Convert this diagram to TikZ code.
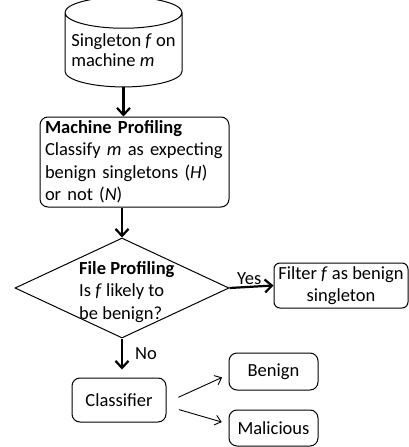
\documentclass[tikz,border=0pt]{standalone}
\usepackage{fontspec}
\setmainfont{Carlito}
\usetikzlibrary{arrows.meta, positioning, shapes.geometric}

\begin{document}
\begin{tikzpicture}[x=1pt, y=-1pt,
      box/.style={draw, line width=1pt, rounded corners=8pt, inner sep=0pt},
      txt/.style={font=\fontsize{18.5}{22.5}\selectfont},
      flow/.style={-{Straight Barb[length=7pt, width=13pt]}, line width=2.2pt},
      fork/.style={-{Straight Barb[length=6pt, width=10pt]}, line width=0.9pt}]

    \useasboundingbox (0,0) rectangle (409,447);

    % === input ===
    \node[draw, line width=1pt, cylinder, shape border rotate=90, aspect=0.3,
          minimum width=117pt, minimum height=90pt, inner sep=0pt,
          font=\fontsize{18.5}{20}\selectfont, align=left] (input) at (123.5,50)
          {Singleton \textit{f} on\\machine \textit{m}};

    % === machine profiling ===
    \node[box, txt, minimum width=189pt, minimum height=90pt, align=left,
          text width=179pt] (machine) at (134.5,162)
          {\textbf{Machine Profiling}\\Classify \textit{m} as expecting\\
           benign singletons (\textit{H})\\or not (\textit{N})};

    % === file profiling ===
    \node[draw, line width=1pt, diamond, minimum width=214pt, minimum height=100pt,
          inner sep=0pt] (fileprof) at (122,288) {};
    \node[txt, align=left, anchor=west, inner sep=0pt] (fileproftxt) at (79,292)
          {\textbf{File Profiling}\\Is \textit{f} likely to\\be benign?};

    \node[box, txt, minimum width=134pt, minimum height=45pt, align=center,
          rounded corners=6pt] (filter) at (341,285.5)
          {Filter \textit{f} as benign\\singleton};

    % === classifier ===
    \node[box, txt, minimum width=94pt, minimum height=44pt] (classifier) at (119,400) {Classifier};
    \node[box, txt, minimum width=89pt, minimum height=37pt] (benign) at (273.5,371.5) {Benign};
    \node[box, txt, minimum width=89pt, minimum height=36pt] (malicious) at (273.5,428) {Malicious};

    % === connectors ===
    \draw[flow] (input.south) -- (input.south |- machine.north);
    \draw[flow] (machine.south -| fileprof.north) -- (fileprof.north);
    \draw[flow] (fileprof.east) -- (filter.west)
          node[txt, pos=0.45, anchor=south, inner sep=1pt] (yes) {Yes};
    \draw[flow, shorten >=8pt] (fileprof.south) -- (fileprof.south |- classifier.north)
          node[txt, pos=0.4, anchor=west, inner sep=0pt, xshift=12pt] (no) {No};
    \draw[fork, shorten <=13pt, shorten >=7pt] ([yshift=-2.7pt]classifier.east) -- ([yshift=-3pt]benign.west);
    \draw[fork, shorten <=13pt, shorten >=7pt] ([yshift=-6pt]classifier.east) -- ([yshift=4pt]malicious.west);

\end{tikzpicture}
\end{document}
